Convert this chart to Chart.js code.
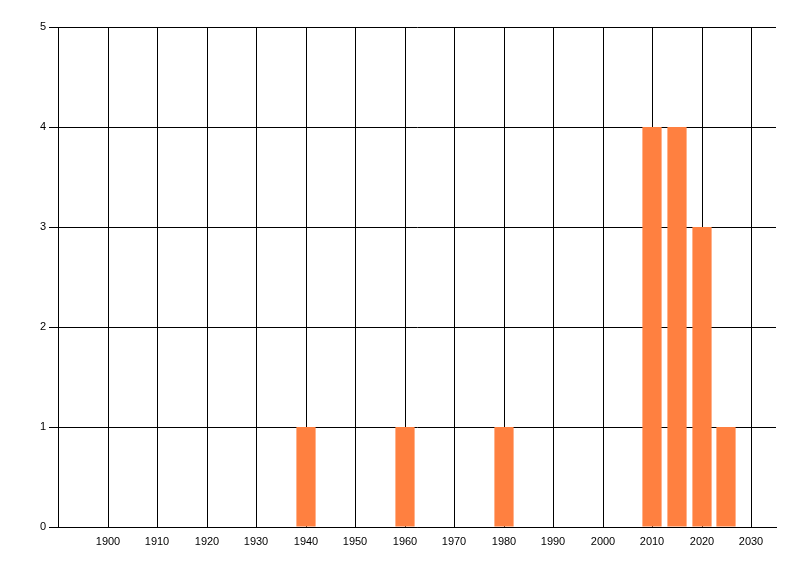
<!DOCTYPE html>
<html lang="en">
<head>
  <meta charset="UTF-8">
  <title>Bar chart</title>
  <script src="https://cdn.jsdelivr.net/npm/chart.js"></script>
  <style>
    html, body { margin: 0; padding: 0; background: #fff; }
    canvas { display: block; }
  </style>
</head>
<body>
  <canvas id="chart" width="800" height="576"></canvas>

  <script>
    const years = [1940, 1960, 1980, 2010, 2015, 2020, 2025];
    const counts = [1, 1, 1, 4, 4, 3, 1];
    const xTicks = [1900, 1910, 1920, 1930, 1940, 1950, 1960, 1970, 1980, 1990, 2000, 2010, 2020, 2030];
    const yTicks = [0, 1, 2, 3, 4, 5];

    const ctx = document.getElementById('chart').getContext('2d');
    new Chart(ctx, {
      type: 'bar',
      data: {
        datasets: [{
          data: years.map((y, i) => ({ x: y, y: counts[i] })),
          backgroundColor: 'rgb(255,128,64)',
          borderWidth: 0,
          barPercentage: 0.8,
          categoryPercentage: 1
        }]
      },
      options: {
        responsive: false,
        animation: false,
        layout: { padding: { left: 0, top: 27, right: 24, bottom: 0 } },
        plugins: {
          legend: { display: false },
          tooltip: { enabled: false }
        },
        scales: {
          x: {
            type: 'linear',
            min: 1890,
            max: 2035,
            offset: false,
            alignToPixels: true,
            afterBuildTicks: scale => { scale.ticks = xTicks.map(v => ({ value: v })); },
            afterFit: scale => { scale.height = 49; },
            grid: { color: '#000', lineWidth: 1, drawTicks: false, offset: false },
            border: { color: '#000', width: 1 },
            ticks: {
              color: '#000',
              padding: 8,
              maxRotation: 0,
              autoSkip: false,
              callback: v => String(v),
              font: { family: 'Liberation Sans', size: 11 }
            }
          },
          y: {
            min: 0,
            max: 5,
            alignToPixels: true,
            afterBuildTicks: scale => { scale.ticks = yTicks.map(v => ({ value: v })); },
            afterFit: scale => { scale.width = 58; },
            grid: { color: '#000', lineWidth: 1, tickLength: 9 },
            border: { color: '#000', width: 1 },
            ticks: {
              color: '#000',
              padding: 3,
              font: { family: 'Liberation Sans', size: 11 }
            }
          }
        }
      }
    });
  </script>
</body>
</html>
